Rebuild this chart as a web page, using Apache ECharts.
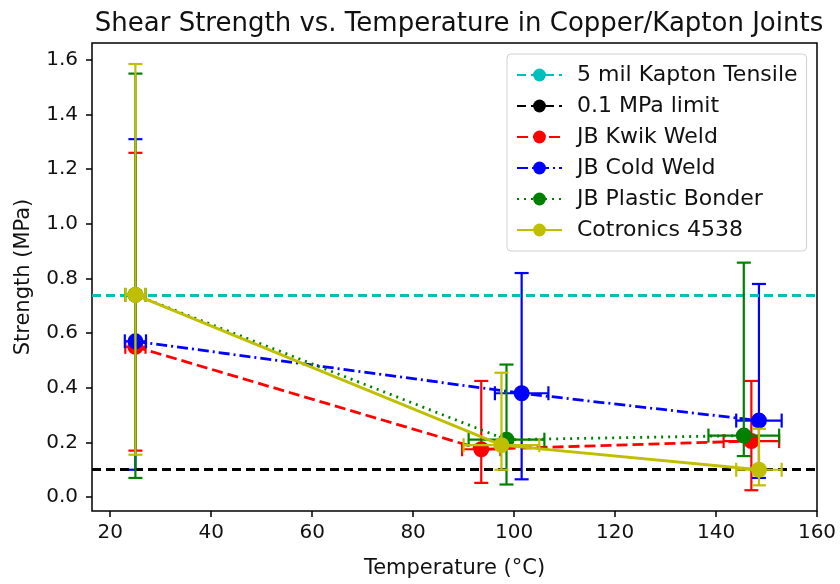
<!DOCTYPE html>
<html>
<head>
<meta charset="utf-8">
<script src="https://cdn.jsdelivr.net/npm/echarts@6/dist/echarts.min.js"></script>
<style>
  html, body { margin: 0; padding: 0; background: #fff; }
  #main { width: 840px; height: 584px; }
</style>
</head>
<body>
<div id="main"></div>
<script>
  // data
  var seriesNames = ['JB Kwik Weld', 'JB Cold Weld', 'JB Plastic Bonder', 'Cotronics 4538']
  var colors = ['#ff0000', '#0000ff', '#008000', '#bfbf00']
  var temps = [
    [25, 93.5, 147],
    [25, 101.5, 148.5],
    [25, 98.5, 145.5],
    [25, 97.5, 148.5]
  ]
  var strength = [
    [0.55, 0.175, 0.205],
    [0.57, 0.38, 0.28],
    [0.74, 0.21, 0.225],
    [0.74, 0.19, 0.10]
  ]
  var lowBar = [
    [0.17, 0.052, 0.025],
    [0.10, 0.065, 0.07],
    [0.07, 0.046, 0.15],
    [0.155, 0.10, 0.043]
  ]
  var highBar = [
    [1.26, 0.425, 0.425],
    [1.31, 0.82, 0.78],
    [1.55, 0.485, 0.858],
    [1.585, 0.455, 0.25]
  ]
  var tempErr = [
    [2, 3.8, 5.5],
    [2.1, 5.3, 4.5],
    [2, 7.5, 7],
    [2, 7.5, 4.5]
  ]
  var kaptonTensile = 0.74
  var limit = 0.1
  var xTicks = [20, 40, 60, 80, 100, 120, 140, 160]
  var yTicks = [0, 0.2, 0.4, 0.6, 0.8, 1.0, 1.2, 1.4, 1.6]

  var font = 'DejaVu Sans'
  var lineTypes = [[11, 5], [11, 4, 2, 4], [2, 5], 'solid']

  // vertical + horizontal error bars with caps
  function errorBars (params, api) {
    var x = api.value(0), y = api.value(1)
    var lo = api.value(2), hi = api.value(3), xe = api.value(4)
    var pLo = api.coord([x, lo]), pHi = api.coord([x, hi])
    var pL = api.coord([x - xe, y]), pR = api.coord([x + xe, y])
    var c = 7
    var segs = [
      [pLo[0], pLo[1], pHi[0], pHi[1]],
      [pLo[0] - c, pLo[1], pLo[0] + c, pLo[1]],
      [pHi[0] - c, pHi[1], pHi[0] + c, pHi[1]],
      [pL[0], pL[1], pR[0], pR[1]],
      [pL[0], pL[1] - c, pL[0], pL[1] + c],
      [pR[0], pR[1] - c, pR[0], pR[1] + c]
    ]
    var style = { stroke: api.visual('color'), lineWidth: 2.2 }
    return {
      type: 'group',
      children: segs.map(function (s) {
        return { type: 'line', shape: { x1: s[0], y1: s[1], x2: s[2], y2: s[3] }, style: style }
      })
    }
  }

  var series = [
    {
      name: '5 mil Kapton Tensile',
      type: 'line',
      data: [],
      symbol: 'none',
      color: '#00bfbf',
      lineStyle: { color: '#00bfbf', type: [9, 5], width: 2.8 },
      markLine: {
        silent: true, symbol: 'none', label: { show: false },
        lineStyle: { color: '#00bfbf', type: [9, 5], width: 2.8 },
        data: [{ yAxis: kaptonTensile }]
      }
    },
    {
      name: '0.1 MPa limit',
      type: 'line',
      data: [],
      symbol: 'none',
      color: '#000',
      lineStyle: { color: '#000', type: [9, 5], width: 2.8 },
      markLine: {
        silent: true, symbol: 'none', label: { show: false },
        lineStyle: { color: '#000', type: [9, 5], width: 2.8 },
        data: [{ yAxis: limit }]
      }
    }
  ]

  seriesNames.forEach(function (name, i) {
    var pts = temps[i].map(function (t, j) { return [t, strength[i][j]] })
    var bars = temps[i].map(function (t, j) {
      return [t, strength[i][j], lowBar[i][j], highBar[i][j], tempErr[i][j]]
    })
    series.push({
      name: name + ' err',
      type: 'custom',
      renderItem: errorBars,
      data: bars,
      color: colors[i],
      encode: { x: 0, y: 1 },
      z: 2 + i * 2,
      silent: true
    })
    series.push({
      name: name,
      type: 'line',
      data: pts,
      color: colors[i],
      symbol: 'circle',
      symbolSize: 16,
      lineStyle: { color: colors[i], width: 2.8, type: lineTypes[i] },
      itemStyle: { color: colors[i] },
      z: 3 + i * 2
    })
  })

  var chart = echarts.init(document.getElementById('main'))
  chart.setOption({
    animation: false,
    backgroundColor: '#fff',
    title: {
      text: 'Shear Strength vs. Temperature in Copper/Kapton Joints',
      left: 454, top: 6, textAlign: 'center',
      textStyle: { fontFamily: font, fontSize: 26, fontWeight: 'normal', color: '#111' }
    },
    legend: {
      orient: 'vertical',
      left: 507, top: 54,
      padding: [10, 9, 10, 9],
      itemGap: 9,
      itemWidth: 45,
      itemHeight: 16,
      backgroundColor: '#fff',
      borderColor: '#d0d0d0',
      borderWidth: 1,
      borderRadius: 4,
      textStyle: { fontFamily: font, fontSize: 22, color: '#111', padding: [0, 0, 0, 10] },
      data: ['5 mil Kapton Tensile', '0.1 MPa limit'].concat(seriesNames)
    },
    grid: {
      left: 92, right: 23, top: 43, bottom: 70,
      show: true, borderColor: '#000', borderWidth: 1.5
    },
    xAxis: {
      type: 'value',
      min: 16.4, max: 160,
      name: 'Temperature (°C)',
      nameLocation: 'middle',
      nameGap: 47,
      nameTextStyle: { fontFamily: font, fontSize: 21, color: '#111' },
      splitLine: { show: false },
      axisLine: { show: false, onZero: false },
      axisTick: { show: true, length: 6, lineStyle: { color: '#000', width: 1.5 }, customValues: xTicks },
      axisLabel: { fontFamily: font, fontSize: 20, color: '#111', margin: 12, customValues: xTicks }
    },
    yAxis: {
      type: 'value',
      min: -0.051, max: 1.662,
      name: 'Strength (MPa)',
      nameLocation: 'middle',
      nameGap: 58,
      nameTextStyle: { fontFamily: font, fontSize: 21, color: '#111' },
      splitLine: { show: false },
      axisLine: { show: false, onZero: false },
      axisTick: { show: true, length: 6, lineStyle: { color: '#000', width: 1.5 }, customValues: yTicks },
      axisLabel: {
        fontFamily: font, fontSize: 20, color: '#111', margin: 14, customValues: yTicks,
        formatter: function (v) { return v.toFixed(1) }
      }
    },
    series: series
  })
</script>
</body>
</html>
